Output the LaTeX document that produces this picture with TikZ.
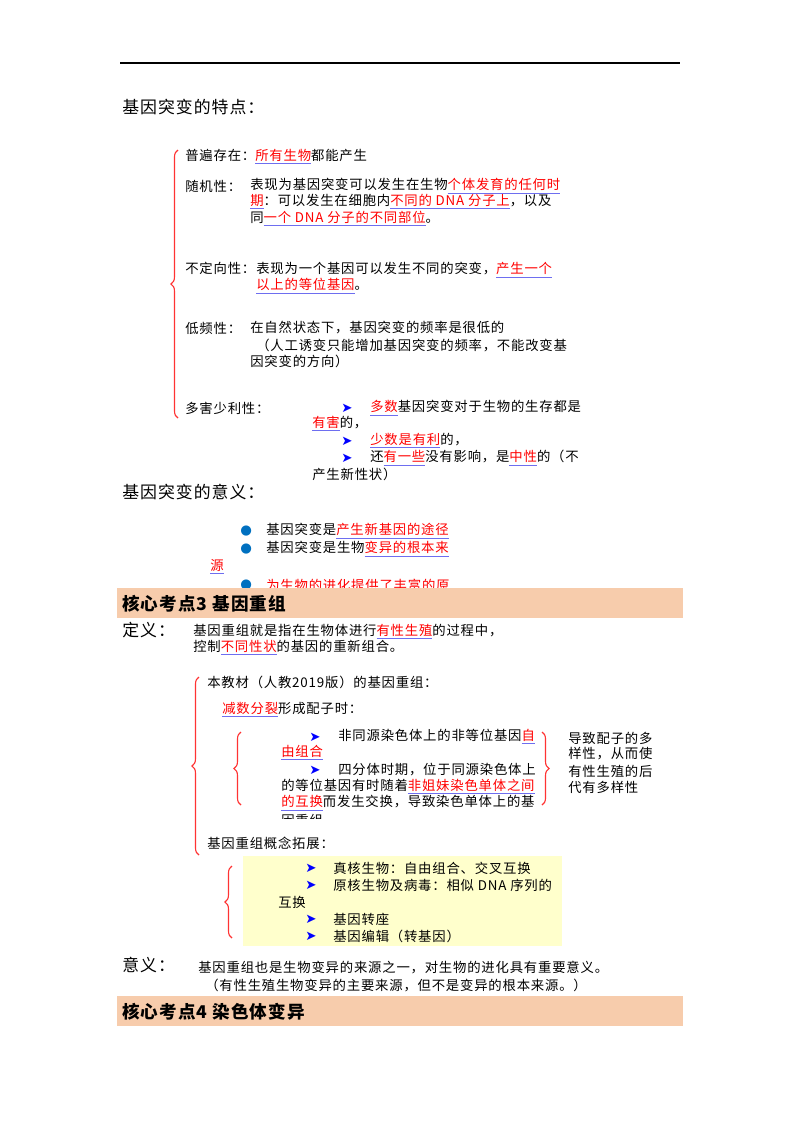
\documentclass[tikz,border=0pt]{standalone}
\usepackage{fontspec}
\setmainfont[LetterSpace=6]{Noto Sans CJK SC}
\newfontfamily\symfont{DejaVu Sans}
\usetikzlibrary{decorations.pathreplacing}
\definecolor{ulblue}{RGB}{110,110,240}
\definecolor{dotblue}{RGB}{0,112,192}
\definecolor{bandpeach}{RGB}{247,204,172}
\definecolor{boxyellow}{RGB}{255,255,204}
\newcommand\kw[1]{{\color{ulblue}\underline{\textcolor{red}{#1}}}}
\newcommand\arr{{\symfont\color{blue}\char"27A4}}
\newcommand\dotb{{\symfont\color{dotblue}\char"25CF}}
\tikzset{
  txt/.style={anchor=west,inner sep=0pt,font=\fontsize{9.5}{11}\selectfont},
  head/.style={anchor=west,inner sep=0pt,font=\fontsize{12}{14}\selectfont},
  band/.style={anchor=west,inner sep=0pt,font=\fontsize{12.5}{14}\selectfont\bfseries},
  rbrace/.style={draw=red!80,thick,decorate,decoration={brace,amplitude=5pt}}
}
\begin{document}
\begin{tikzpicture}[x=0.025cm,y=-0.025cm]
  \useasboundingbox (0,0) rectangle (800,1132);
  \draw[line width=1pt] (120,63) -- (680,63);
  % gene mutation features
  \node[head] (h1) at (122,107) {基因突变的特点：};
  \draw[rbrace] (178,418) -- (178,150);
  \node[txt] (a1) at (185,157) {普遍存在：\kw{所有生物}都能产生};
  \node[txt] (b0) at (185,186) {随机性：};
  \node[txt] (b1) at (250,186) {表现为基因突变可以发生在生物\kw{个体发育的任何时}};
  \node[txt] (b2) at (250,202) {\kw{期}：可以发生在细胞内\kw{不同的 DNA 分子上}，以及};
  \node[txt] (b3) at (250,219) {同\kw{一个 DNA 分子的不同部位}。};
  \node[txt] (c0) at (185,268) {不定向性：};
  \node[txt] (c1) at (256,270) {表现为一个基因可以发生不同的突变，\kw{产生一个}};
  \node[txt] (c2) at (256,286) {\kw{以上的等位基因}。};
  \node[txt] (d0) at (185,328) {低频性：};
  \node[txt] (d1) at (250,328) {在自然状态下，基因突变的频率是很低的};
  \node[txt] (d2) at (256,345) {（人工诱变只能增加基因突变的频率，不能改变基};
  \node[txt] (d3) at (250,361) {因突变的方向）};
  \node[txt] (e0) at (185,408) {多害少利性：};
  \node[txt] (e1) at (341,408) {\arr};
  \node[txt] (e2) at (370,408) {\kw{多数}基因突变对于生物的生存都是};
  \node[txt] (e3) at (312,424) {\kw{有害}的，};
  \node[txt] (e4) at (341,441) {\arr};
  \node[txt] (e5) at (370,441) {\kw{少数是有利}的，};
  \node[txt] (e6) at (341,458) {\arr};
  \node[txt] (e7) at (370,458) {还\kw{有一些}没有影响，是\kw{中性}的（不};
  \node[txt] (e8) at (312,474) {产生新性状）};
  % meaning
  \node[head] (h2) at (122,492) {基因突变的意义：};
  \node[txt] (f1) at (240,531) {\dotb};
  \node[txt] (f2) at (266,531) {基因突变是\kw{产生新基因的途径}};
  \node[txt] (f3) at (240,549) {\dotb};
  \node[txt] (f4) at (266,549) {基因突变是生物\kw{变异的根本来}};
  \node[txt] (f5) at (210,567) {\kw{源}};
  \node[txt] (f6) at (240,585) {\dotb};
  \node[txt] (f7) at (266,585) {\textcolor{red}{为生物的进化提供了丰富的原}};
  \fill[bandpeach] (117,588) rectangle (683,618);
  \node[band] (h3) at (122,604) {核心考点3\ 基因重组};
  % recombination
  \node[head] (g0) at (122,630) {定义：};
  \node[txt] (g1) at (193,632) {基因重组就是指在生物体进行\kw{有性生殖}的过程中，};
  \node[txt] (g2) at (193,648) {控制\kw{不同性状}的基因的重新组合。};
  \draw[rbrace] (199,855) -- (199,677);
  \node[txt] (k0) at (207,682) {本教材（人教2019版）的基因重组：};
  \node[txt] (k1) at (222,710) {\kw{减数分裂}形成配子时：};
  \draw[rbrace] (241,805) -- (241,732);
  \draw[rbrace] (542,732) -- (542,805);
  \node[txt] (m1) at (309,737) {\arr};
  \node[txt] (m2) at (338,737) {非同源染色体上的非等位基因\kw{自}};
  \node[txt] (m3) at (281,753) {\kw{由组合}};
  \node[txt] (m4) at (309,770) {\arr};
  \node[txt] (m5) at (338,770) {四分体时期，位于同源染色体上};
  \node[txt] (m6) at (281,787) {的等位基因有时随着\kw{非姐妹染色单体之间}};
  \node[txt] (m7) at (281,803) {\kw{的互换}而发生交换，导致染色单体上的基};
  \begin{scope}
    \clip (270,812) rectangle (400,818);
    \node[txt] (m8) at (281,820) {因重组};
  \end{scope}
  \node[txt] (n1) at (568,738) {导致配子的多};
  \node[txt] (n2) at (568,754) {样性，从而使};
  \node[txt] (n3) at (568,771) {有性生殖的后};
  \node[txt] (n4) at (568,787) {代有多样性};
  \node[txt] (k2) at (207,843) {基因重组概念拓展：};
  \fill[boxyellow] (243,856) rectangle (562,946);
  \draw[rbrace] (232,938) -- (232,866);
  \node[txt] (p1) at (305,868) {\arr};
  \node[txt] (p2) at (333,868) {真核生物：自由组合、交叉互换};
  \node[txt] (p3) at (305,885) {\arr};
  \node[txt] (p4) at (333,885) {原核生物及病毒：相似 DNA 序列的};
  \node[txt] (p5) at (278,902) {互换};
  \node[txt] (p6) at (305,919) {\arr};
  \node[txt] (p7) at (333,919) {基因转座};
  \node[txt] (p8) at (305,936) {\arr};
  \node[txt] (p9) at (333,936) {基因编辑（转基因）};
  \node[head] (q0) at (122,965) {意义：};
  \node[txt] (q1) at (198,968) {基因重组也是生物变异的来源之一，对生物的进化具有重要意义。};
  \node[txt] (q2) at (205,985) {（有性生殖生物变异的主要来源，但不是变异的根本来源。）};
  \fill[bandpeach] (117,996) rectangle (683,1026);
  \node[band] (h4) at (122,1012) {核心考点4\ 染色体变异};
\end{tikzpicture}
\end{document}
